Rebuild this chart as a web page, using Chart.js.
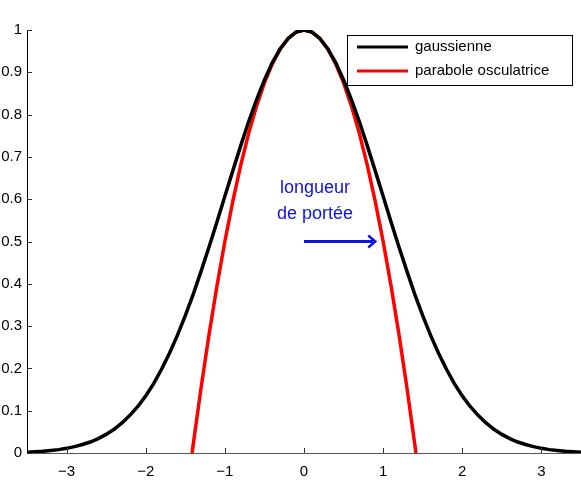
<!DOCTYPE html>
<html>
<head>
<meta charset="utf-8">
<script src="https://cdn.jsdelivr.net/npm/chart.js@4/dist/chart.umd.min.js"></script>
<style>
  body { margin: 0; background: #fff; }
</style>
</head>
<body>
<canvas id="chart" width="581" height="480"></canvas>
<script>
// gaussian curve
const gaussX = [
  -3.5, -3.4, -3.3, -3.2, -3.1, -3.0, -2.9, -2.8, -2.7, -2.6, -2.5, -2.4,
  -2.3, -2.2, -2.1, -2.0, -1.9, -1.8, -1.7, -1.6, -1.5, -1.4, -1.3, -1.2,
  -1.1, -1.0, -0.9, -0.8, -0.7, -0.6, -0.5, -0.4, -0.3, -0.2, -0.1, 0,
  0.1, 0.2, 0.3, 0.4, 0.5, 0.6, 0.7, 0.8, 0.9, 1.0, 1.1, 1.2,
  1.3, 1.4, 1.5, 1.6, 1.7, 1.8, 1.9, 2.0, 2.1, 2.2, 2.3, 2.4,
  2.5, 2.6, 2.7, 2.8, 2.9, 3.0, 3.1, 3.2, 3.3, 3.4, 3.5
];
const gaussY = [
  0.002, 0.003, 0.004, 0.006, 0.008, 0.011, 0.015, 0.020, 0.026, 0.034, 0.044, 0.056,
  0.071, 0.089, 0.110, 0.135, 0.164, 0.198, 0.236, 0.278, 0.325, 0.375, 0.430, 0.487,
  0.546, 0.607, 0.667, 0.726, 0.783, 0.835, 0.882, 0.923, 0.956, 0.980, 0.995, 1.0,
  0.995, 0.980, 0.956, 0.923, 0.882, 0.835, 0.783, 0.726, 0.667, 0.607, 0.546, 0.487,
  0.430, 0.375, 0.325, 0.278, 0.236, 0.198, 0.164, 0.135, 0.110, 0.089, 0.071, 0.056,
  0.044, 0.034, 0.026, 0.020, 0.015, 0.011, 0.008, 0.006, 0.004, 0.003, 0.002
];

// osculating parabola
const paraX = [
  -1.414, -1.4, -1.3, -1.2, -1.1, -1.0, -0.9, -0.8, -0.7, -0.6, -0.5, -0.4, -0.3, -0.2, -0.1, 0,
  0.1, 0.2, 0.3, 0.4, 0.5, 0.6, 0.7, 0.8, 0.9, 1.0, 1.1, 1.2, 1.3, 1.4, 1.414
];
const paraY = [
  0, 0.02, 0.155, 0.28, 0.395, 0.5, 0.595, 0.68, 0.755, 0.82, 0.875, 0.92, 0.955, 0.98, 0.995, 1.0,
  0.995, 0.98, 0.955, 0.92, 0.875, 0.82, 0.755, 0.68, 0.595, 0.5, 0.395, 0.28, 0.155, 0.02, 0
];

const seriesLabels = ["gaussienne", "parabole osculatrice"];
const seriesColors = ["#000000", "#ff0000"];
const noteLines = ["longueur", "de portée"];
const arrowFrom = [0, 0.5];
const arrowTo = [0.9, 0.5];

const FAMILY = '"Liberation Sans", Arial, sans-serif';
const FONT = '15px ' + FAMILY;

function pts(xs, ys) {
  return xs.map((x, i) => ({ x: x, y: ys[i] }));
}

// inward tick marks, matlab style
const tickMarks = {
  id: "tickMarks",
  afterDatasetsDraw(chart) {
    const ctx = chart.ctx;
    const xs = chart.scales.x, ys = chart.scales.y;
    const a = chart.chartArea;
    ctx.save();
    ctx.lineWidth = 1;
    ctx.strokeStyle = "#333";
    xs.ticks.forEach(t => {
      const px = Math.round(xs.getPixelForValue(t.value)) + 0.5;
      ctx.beginPath();
      ctx.moveTo(px, a.bottom);
      ctx.lineTo(px, a.bottom - 5);
      ctx.stroke();
    });
    ys.ticks.forEach(t => {
      const py = Math.round(ys.getPixelForValue(t.value)) + 0.5;
      ctx.beginPath();
      ctx.moveTo(a.left, py);
      ctx.lineTo(a.left + 5, py);
      ctx.stroke();
    });
    ctx.restore();
  }
};

// text + arrow annotation, and boxed legend
const extras = {
  id: "extras",
  afterDraw(chart) {
    const ctx = chart.ctx;
    const xs = chart.scales.x, ys = chart.scales.y;
    ctx.save();
    ctx.fillStyle = "#1010e0";
    ctx.strokeStyle = "#1010e0";
    ctx.font = '18px ' + FAMILY;
    ctx.textAlign = "center";
    ctx.textBaseline = "middle";
    const cx = xs.getPixelForValue(0.14);
    ctx.fillText(noteLines[0], cx, ys.getPixelForValue(0.626));
    ctx.fillText(noteLines[1], cx, ys.getPixelForValue(0.565));

    const x0 = xs.getPixelForValue(arrowFrom[0]);
    const x1 = xs.getPixelForValue(arrowTo[0]);
    const y0 = ys.getPixelForValue(arrowFrom[1]);
    ctx.lineWidth = 3;
    ctx.beginPath();
    ctx.moveTo(x0, y0);
    ctx.lineTo(x1 - 2, y0);
    ctx.stroke();
    ctx.lineWidth = 2.5;
    ctx.beginPath();
    ctx.moveTo(x1 - 7, y0 - 6);
    ctx.lineTo(x1, y0);
    ctx.lineTo(x1 - 7, y0 + 6);
    ctx.stroke();

    // legend
    const bx = 347.5, by = 35.5, bw = 225, bh = 50;
    ctx.fillStyle = "#fff";
    ctx.fillRect(bx, by, bw, bh);
    ctx.strokeStyle = "#000";
    ctx.lineWidth = 1;
    ctx.strokeRect(bx, by, bw, bh);
    ctx.textAlign = "left";
    ctx.font = FONT;
    seriesLabels.forEach((lab, i) => {
      const ly = 47 + i * 24;
      ctx.strokeStyle = seriesColors[i];
      ctx.lineWidth = 3;
      ctx.beginPath();
      ctx.moveTo(357, ly);
      ctx.lineTo(408, ly);
      ctx.stroke();
      ctx.fillStyle = "#000";
      ctx.fillText(lab, 415, ly);
    });
    ctx.restore();
  }
};

new Chart(document.getElementById("chart"), {
  type: "scatter",
  data: {
    datasets: [
      {
        label: seriesLabels[0],
        data: pts(gaussX, gaussY),
        showLine: true,
        borderColor: seriesColors[0],
        borderWidth: 3.5,
        pointRadius: 0,
        tension: 0
      },
      {
        label: seriesLabels[1],
        data: pts(paraX, paraY),
        showLine: true,
        borderColor: seriesColors[1],
        borderWidth: 3.5,
        pointRadius: 0,
        tension: 0
      }
    ]
  },
  options: {
    responsive: false,
    animation: false,
    layout: { padding: { top: 30, right: 0, left: 0, bottom: 0 } },
    plugins: {
      legend: { display: false },
      tooltip: { enabled: false }
    },
    scales: {
      x: {
        type: "linear",
        min: -3.5,
        max: 3.5,
        afterFit: s => { s.height = 27; },
        afterBuildTicks: s => {
          s.ticks = [-3, -2, -1, 0, 1, 2, 3].map(v => ({ value: v }));
        },
        ticks: {
          color: "#000",
          font: { family: FAMILY, size: 15 },
          padding: 10,
          maxRotation: 0,
          callback: v => String(v).replace("-", "\u2212")
        },
        grid: { display: false, drawTicks: false },
        border: { display: true, color: "#555", width: 1 }
      },
      y: {
        min: 0,
        max: 1,
        afterFit: s => { s.width = 27; },
        ticks: {
          stepSize: 0.1,
          color: "#000",
          font: { family: FAMILY, size: 15 },
          padding: 5,
          callback: v => String(Math.round(v * 10) / 10)
        },
        grid: { display: false, drawTicks: false },
        border: { display: true, color: "#000", width: 1 }
      }
    }
  },
  plugins: [tickMarks, extras]
});
</script>
</body>
</html>
